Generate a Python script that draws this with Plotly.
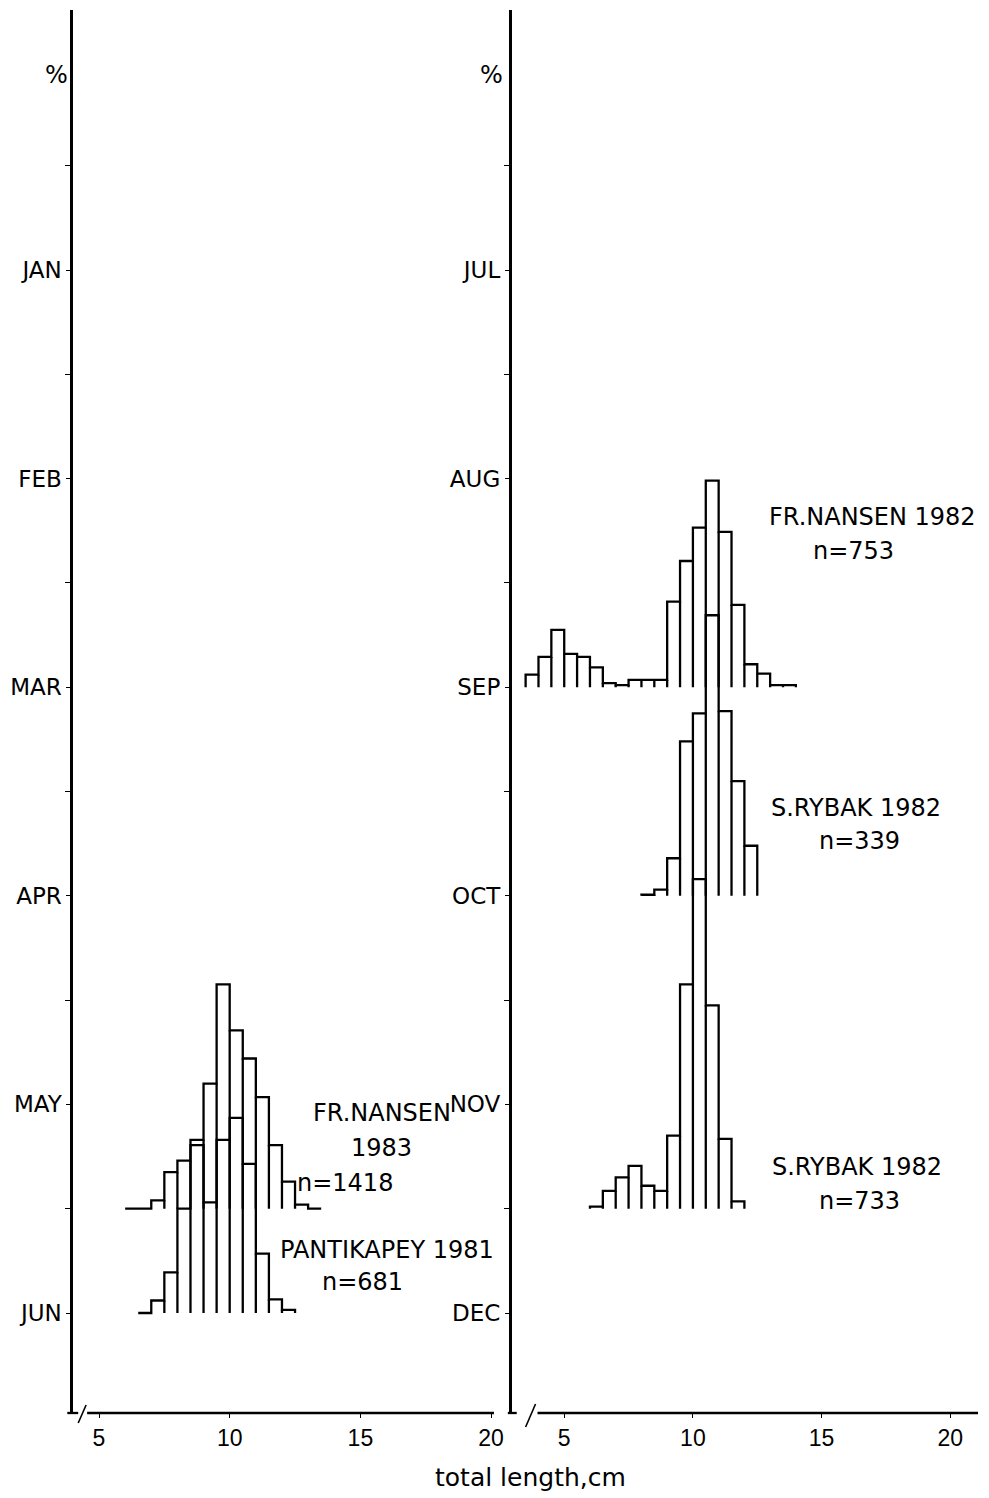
import plotly.graph_objects as go

W, H = 989, 1498
BIN = 0.5           # cm, width of a length class
MONTH_STEP = 20     # % represented by the distance between two month ticks

# ---------------- data ----------------
left_months = ["JAN", "FEB", "MAR", "APR", "MAY", "JUN"]
right_months = ["JUL", "AUG", "SEP", "OCT", "NOV", "DEC"]
x_ticks = [5, 10, 15, 20]

# FR.NANSEN 1983, n=1418 (between MAY and JUN)
nansen83_start = 6.0
nansen83_pct = [0, 0, 0.8, 3.5, 4.6, 6.6, 12.0, 21.5, 17.1, 14.4, 10.7, 6.1, 2.6, 0.4, 0]
nansen83_month = 4.5

# PANTIKAPEY 1981, n=681 (JUN)
pantik81_start = 6.5
pantik81_pct = [0, 1.2, 3.9, 10.0, 16.1, 10.6, 16.6, 18.7, 14.3, 5.7, 1.3, 0.3]
pantik81_month = 5

# FR.NANSEN 1982, n=753 (SEP)
nansen82_start = 3.5
nansen82_pct = [1.2, 2.9, 5.5, 3.2, 2.9, 1.9, 0.4, 0.2, 0.7, 0.7, 0.7, 8.2, 12.1,
                15.3, 19.8, 14.9, 7.9, 2.2, 1.3, 0.2, 0.2]
nansen82_month = 2

# S.RYBAK 1982, n=339 (OCT)
rybak82a_start = 8.0
rybak82a_pct = [0.1, 0.6, 3.6, 14.8, 17.5, 26.9, 17.7, 11.0, 4.8]
rybak82a_month = 3

# S.RYBAK 1982, n=733 (between NOV and DEC)
rybak82b_start = 6.0
rybak82b_pct = [0.2, 1.7, 3.0, 4.1, 2.2, 1.7, 7.0, 21.5, 31.6, 19.5, 6.7, 0.7]
rybak82b_month = 4.5

# ---------------- helpers ----------------
FONT = "DejaVu Sans"
TICKFONT = "Liberation Sans"


def hist_path(start, pct, month):
    base = -month * MONTH_STEP
    edges = [start + i * BIN for i in range(len(pct) + 1)]
    xs, ys = [edges[0]], [base]
    for i, p in enumerate(pct):
        xs += [edges[i], edges[i + 1]]
        ys += [base + p, base + p]
    xs += [edges[-1], None]
    ys += [base, None]
    for i in range(1, len(pct)):
        h = min(pct[i - 1], pct[i])
        if h > 0:
            xs += [edges[i], edges[i], None]
            ys += [base, base + h, None]
    return xs, ys


def px(x):
    return x / W


def py(y):
    return 1 - y / H


fig = go.Figure()
line = dict(color="black", width=2.3)
for start, pct, month, xa, ya in [
    (nansen83_start, nansen83_pct, nansen83_month, "x", "y"),
    (pantik81_start, pantik81_pct, pantik81_month, "x", "y"),
    (nansen82_start, nansen82_pct, nansen82_month, "x2", "y2"),
    (rybak82a_start, rybak82a_pct, rybak82a_month, "x2", "y2"),
    (rybak82b_start, rybak82b_pct, rybak82b_month, "x2", "y2"),
]:
    xs, ys = hist_path(start, pct, month)
    fig.add_trace(go.Scatter(x=xs, y=ys, mode="lines", line=line,
                             xaxis=xa, yaxis=ya, showlegend=False,
                             hoverinfo="skip"))

month_vals = [-i * MONTH_STEP for i in range(6)]
half_vals = [MONTH_STEP / 2] + [-(i + 0.5) * MONTH_STEP for i in range(5)]

y_dom = [(H - 1413) / H, (H - 10) / H]
y_rng = [-(1413 - 270) / 10.43, (270 - 10) / 10.43]

yax = dict(domain=y_dom, range=y_rng, showline=True, linecolor="black",
           linewidth=2.8, showgrid=False, zeroline=False,
           tickmode="array", tickvals=month_vals, ticks="outside",
           ticklen=4, tickcolor="black", tickwidth=1.2,
           tickfont=dict(family=FONT, size=23, color="black"),
           minor=dict(tickmode="array", tickvals=half_vals, ticks="outside",
                      ticklen=5, tickcolor="black", tickwidth=1.2))

xax = dict(showline=False, showgrid=False, zeroline=False, tickmode="array",
           tickvals=x_ticks, ticks="outside", ticklen=4, tickcolor="black",
           tickwidth=1.2, tickfont=dict(family=TICKFONT, size=23, color="black"))

fig.update_layout(
    width=W, height=H, margin=dict(l=0, r=0, t=0, b=0),
    paper_bgcolor="white", plot_bgcolor="white",
    xaxis=dict(xax, domain=[74 / W, 499 / W], range=[4.015, 20.11], anchor="y"),
    xaxis2=dict(xax, domain=[517 / W, 988 / W], range=[2.962, 21.077], anchor="y2"),
    yaxis=dict(yax, ticktext=left_months, anchor="x"),
    yaxis2=dict(yax, ticktext=right_months, anchor="x2"),
)

# axis lines with break marks
shapes = []
lw = dict(color="black", width=2.3)
for x0, x1 in [(68, 79), (88, 499), (513, 522), (543, 988)]:
    shapes.append(dict(type="line", xref="paper", yref="paper",
                       x0=px(x0), x1=px(x1), y0=py(1413), y1=py(1413), line=lw))
for (x0, y0, x1, y1) in [(79, 1423, 87, 1405), (531, 1427, 541, 1404)]:
    shapes.append(dict(type="line", xref="paper", yref="paper",
                       x0=px(x0), x1=px(x1), y0=py(y0), y1=py(y1),
                       line=dict(color="black", width=1.6)))
fig.update_layout(shapes=shapes)

tf = dict(family=FONT, size=24, color="black")
ann = []


def add(text, x, y, xanchor="center", size=24):
    ann.append(dict(text=text, x=px(x), y=py(y), xref="paper", yref="paper",
                    showarrow=False, xanchor=xanchor, yanchor="middle",
                    font=dict(tf, size=size)))


add("%", 57, 75)
add("%", 497, 75)
add("FR.NANSEN", 386, 1113)
add("1983", 385, 1148)
add("n=1418", 349, 1183)
add("PANTIKAPEY 1981", 391, 1250)
add("n=681", 366, 1282)
add("FR.NANSEN 1982", 775, 517, "left")
add("n=753", 862, 551)
add("S.RYBAK 1982", 865, 808)
add("n=339", 868, 841)
add("S.RYBAK 1982", 866, 1167)
add("n=733", 868, 1201)
add("total length,cm", 536, 1477, size=25)
fig.update_layout(annotations=ann)

fig.write_html(
    "out.html",
    post_script="document.body.style.margin='0';"
                "document.body.style.overflow='hidden';",
)
